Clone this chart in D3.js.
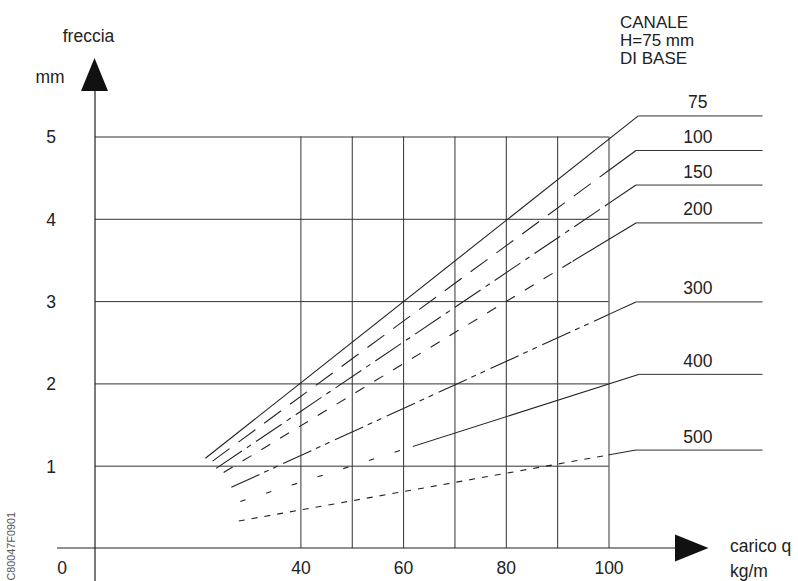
<!DOCTYPE html>
<html><head><meta charset="utf-8">
<script src="https://cdn.jsdelivr.net/npm/d3@7"></script>
<style>body{margin:0;background:#fff}text{font-family:"Liberation Sans",Arial,Helvetica,sans-serif;fill:#222}</style>
</head><body>
<svg id="c" width="798" height="581"></svg>
<script>
// ---- data ----
const seriesNames = ["75","100","150","200","300","400","500"];
const startX = [21.5, 22.9, 23.6, 25.05, 26.55, 28.3, 28.0];
const startY = [1.09, 1.056, 0.967, 0.918, 0.737, 0.566, 0.328];
const endX   = [105.8, 105.35, 105.35, 105.35, 105.35, 106.0, 105.35];
const endY   = [5.25, 4.83, 4.41, 3.95, 2.99, 2.11, 1.19];
const solidFrom = [0, 100, 100, 93, 100, 61.9, 100];
const dashes = [null, "21,11", "31,6,5,6", "10.5,11.5", "31,5,5,5,5,6", "5.5,21.5", "6,7"];
const leaderEndX = 130;
const labelX = 117.4;
const xTickLabels = [40, 60, 80, 100];
const xGrid = [40, 50, 60, 70, 80, 90, 100];
const yGrid = [1, 2, 3, 4, 5];
const titleLines = ["CANALE", "H=75 mm", "DI BASE"];

// ---- layout ----
const svg = d3.select("#c");
const FS = 17.5;
const x = d3.scaleLinear().domain([0, 100]).range([95, 608.5]);
const y = d3.scaleLinear().domain([0, 5]).range([548, 136.5]);
const gridColor = "#333";

// horizontal grid + y labels
const gy = svg.append("g").attr("transform", `translate(${x(0)},0)`)
  .call(d3.axisLeft(y).tickValues(yGrid).tickSize(-(x(100) - x(0))).tickPadding(39).tickFormat(d3.format("d")));
gy.select(".domain").remove();
gy.selectAll(".tick line").attr("stroke", gridColor);
gy.selectAll(".tick text").attr("font-size", FS).attr("text-anchor", "middle").attr("x", -44).attr("dy", "0.36em")
  .style("font-family", '"Liberation Sans",Arial,sans-serif').attr("fill", "#222");

// vertical grid
const gx = svg.append("g").attr("transform", `translate(0,${y(0)})`)
  .call(d3.axisBottom(x).tickValues(xGrid).tickSize(-(y(0) - y(5))).tickFormat(""));
gx.select(".domain").remove();
gx.selectAll(".tick line").attr("stroke", gridColor);

// x labels
const gxl = svg.append("g").attr("transform", `translate(0,${y(0)})`)
  .call(d3.axisBottom(x).tickValues(xTickLabels).tickSize(0).tickPadding(13.5).tickFormat(d3.format("d")));
gxl.select(".domain").remove();
gxl.selectAll(".tick text").attr("font-size", FS).style("font-family", '"Liberation Sans",Arial,sans-serif').attr("fill", "#222");

svg.append("text").attr("x", x(0) - 33).attr("y", 573.5).attr("text-anchor", "middle").attr("font-size", FS).text("0");

// axes lines and arrows
svg.append("line").attr("x1", 57).attr("x2", 676).attr("y1", y(0)).attr("y2", y(0)).attr("stroke", "#222").attr("stroke-width", 1.2);
svg.append("line").attr("x1", x(0)).attr("x2", x(0)).attr("y1", 581).attr("y2", 90).attr("stroke", "#222").attr("stroke-width", 1.2);
svg.append("path").attr("d", `M${x(0) - 0.5},58 L${x(0) - 14},91 L${x(0) + 13},91 Z`).attr("fill", "#111");
svg.append("path").attr("d", `M708.5,${y(0)} L675,${y(0) - 13.5} L675,${y(0) + 13.5} Z`).attr("fill", "#111");

// axis texts
svg.append("text").attr("x", 88.5).attr("y", 41.5).attr("text-anchor", "middle").attr("font-size", FS).text("freccia");
svg.append("text").attr("x", 50).attr("y", 82.5).attr("text-anchor", "middle").attr("font-size", FS).text("mm");
svg.append("text").attr("x", 730).attr("y", 551.5).attr("font-size", FS).text("carico q");
svg.append("text").attr("x", 730).attr("y", 576.5).attr("font-size", FS).text("kg/m");
titleLines.forEach((t, i) => {
  svg.append("text").attr("x", 620).attr("y", 28 + i * 18).attr("font-size", 17).text(t);
});
svg.append("text").attr("transform", "translate(15,580.5) rotate(-90)").attr("font-size", 10.8)
  .style("fill", "#555").text("C80047F0901");

// series
const line = d3.line().x(d => x(d[0])).y(d => y(d[1]));
const defs = svg.append("defs");
seriesNames.forEach((name, i) => {
  const pts = [[startX[i], startY[i]], [endX[i], endY[i]]];
  const sx = x(solidFrom[i]);
  defs.append("clipPath").attr("id", "cd" + i).append("rect").attr("x", 0).attr("y", 0).attr("width", sx).attr("height", 581);
  defs.append("clipPath").attr("id", "cs" + i).append("rect").attr("x", sx).attr("y", 0).attr("width", 798 - sx).attr("height", 581);
  if (dashes[i]) {
    svg.append("path").attr("d", line(pts)).attr("fill", "none").attr("stroke", "#222").attr("stroke-width", 1.1)
      .attr("stroke-dasharray", dashes[i]).attr("clip-path", `url(#cd${i})`);
  }
  svg.append("path").attr("d", line(pts)).attr("fill", "none").attr("stroke", "#222").attr("stroke-width", 1.1)
    .attr("clip-path", `url(#cs${i})`);
  svg.append("path").attr("d", line([[endX[i], endY[i]], [leaderEndX, endY[i]]])).attr("fill", "none").attr("stroke", "#333").attr("stroke-width", 1);
  svg.append("text").attr("x", x(labelX)).attr("y", y(endY[i]) - 7.5).attr("text-anchor", "middle").attr("font-size", FS).text(name);
});
</script>
</body></html>
